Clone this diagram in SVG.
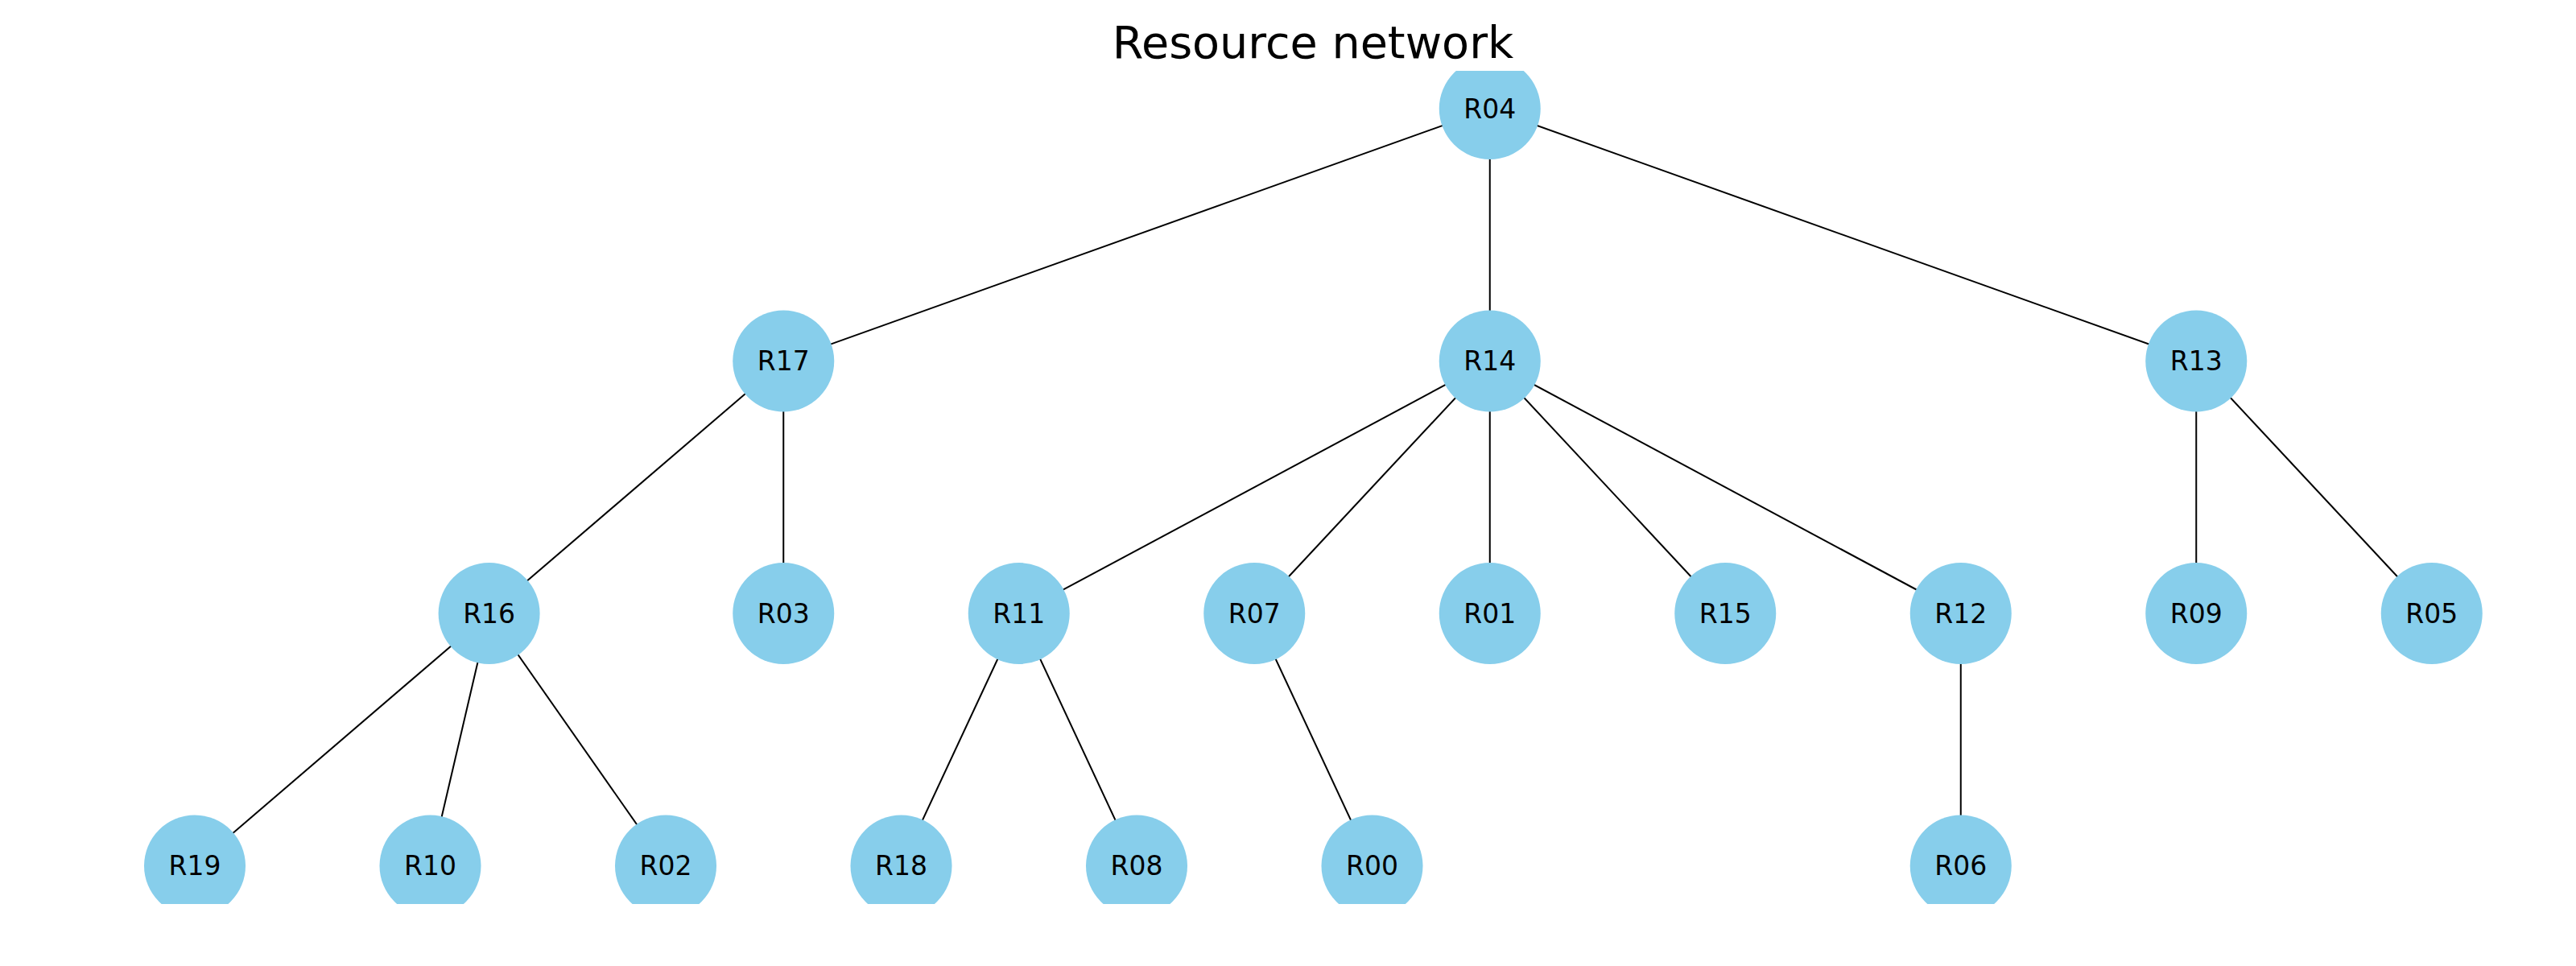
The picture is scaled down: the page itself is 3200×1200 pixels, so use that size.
<svg xmlns="http://www.w3.org/2000/svg" width="3200" height="1200" viewBox="0 0 3200 1200">
<style>
.edge{stroke:#000;stroke-width:2;fill:none}
.node circle{fill:#87CEEB}
.node text{font-family:"DejaVu Sans",sans-serif;font-size:33px;fill:#000;text-anchor:middle;dominant-baseline:central}
.title{font-family:"DejaVu Sans",sans-serif;font-size:55.6px;fill:#000;text-anchor:middle}
</style>
<defs><clipPath id="ax"><rect x="0" y="88" width="3200" height="1035"/></clipPath></defs>
<rect width="3200" height="1200" fill="#fff"/>
<text class="title" x="1631" y="72">Resource network</text>
<g clip-path="url(#ax)">
<g id="edges">
<line class="edge" x1="1850.75" y1="135" x2="973.25" y2="448.5"/>
<line class="edge" x1="1850.75" y1="135" x2="1850.75" y2="448.5"/>
<line class="edge" x1="1850.75" y1="135" x2="2728.25" y2="448.5"/>
<line class="edge" x1="973.25" y1="448.5" x2="607.6" y2="762"/>
<line class="edge" x1="973.25" y1="448.5" x2="973.25" y2="762"/>
<line class="edge" x1="1850.75" y1="448.5" x2="1265.75" y2="762"/>
<line class="edge" x1="1850.75" y1="448.5" x2="1558.25" y2="762"/>
<line class="edge" x1="1850.75" y1="448.5" x2="1850.75" y2="762"/>
<line class="edge" x1="1850.75" y1="448.5" x2="2143.25" y2="762"/>
<line class="edge" x1="1850.75" y1="448.5" x2="2435.75" y2="762"/>
<line class="edge" x1="2728.25" y1="448.5" x2="2728.25" y2="762"/>
<line class="edge" x1="2728.25" y1="448.5" x2="3020.75" y2="762"/>
<line class="edge" x1="607.6" y1="762" x2="242" y2="1075.5"/>
<line class="edge" x1="607.6" y1="762" x2="534.5" y2="1075.5"/>
<line class="edge" x1="607.6" y1="762" x2="827" y2="1075.5"/>
<line class="edge" x1="1265.75" y1="762" x2="1119.5" y2="1075.5"/>
<line class="edge" x1="1265.75" y1="762" x2="1412" y2="1075.5"/>
<line class="edge" x1="1558.25" y1="762" x2="1704.5" y2="1075.5"/>
<line class="edge" x1="2435.75" y1="762" x2="2435.75" y2="1075.5"/>
</g>
<g id="R04" class="node"><circle cx="1850.75" cy="135" r="63"/><text x="1850.75" y="135">R04</text></g>
<g id="R17" class="node"><circle cx="973.25" cy="448.5" r="63"/><text x="973.25" y="448.5">R17</text></g>
<g id="R14" class="node"><circle cx="1850.75" cy="448.5" r="63"/><text x="1850.75" y="448.5">R14</text></g>
<g id="R13" class="node"><circle cx="2728.25" cy="448.5" r="63"/><text x="2728.25" y="448.5">R13</text></g>
<g id="R16" class="node"><circle cx="607.6" cy="762" r="63"/><text x="607.6" y="762">R16</text></g>
<g id="R03" class="node"><circle cx="973.25" cy="762" r="63"/><text x="973.25" y="762">R03</text></g>
<g id="R11" class="node"><circle cx="1265.75" cy="762" r="63"/><text x="1265.75" y="762">R11</text></g>
<g id="R07" class="node"><circle cx="1558.25" cy="762" r="63"/><text x="1558.25" y="762">R07</text></g>
<g id="R01" class="node"><circle cx="1850.75" cy="762" r="63"/><text x="1850.75" y="762">R01</text></g>
<g id="R15" class="node"><circle cx="2143.25" cy="762" r="63"/><text x="2143.25" y="762">R15</text></g>
<g id="R12" class="node"><circle cx="2435.75" cy="762" r="63"/><text x="2435.75" y="762">R12</text></g>
<g id="R09" class="node"><circle cx="2728.25" cy="762" r="63"/><text x="2728.25" y="762">R09</text></g>
<g id="R05" class="node"><circle cx="3020.75" cy="762" r="63"/><text x="3020.75" y="762">R05</text></g>
<g id="R19" class="node"><circle cx="242" cy="1075.5" r="63"/><text x="242" y="1075.5">R19</text></g>
<g id="R10" class="node"><circle cx="534.5" cy="1075.5" r="63"/><text x="534.5" y="1075.5">R10</text></g>
<g id="R02" class="node"><circle cx="827" cy="1075.5" r="63"/><text x="827" y="1075.5">R02</text></g>
<g id="R18" class="node"><circle cx="1119.5" cy="1075.5" r="63"/><text x="1119.5" y="1075.5">R18</text></g>
<g id="R08" class="node"><circle cx="1412" cy="1075.5" r="63"/><text x="1412" y="1075.5">R08</text></g>
<g id="R00" class="node"><circle cx="1704.5" cy="1075.5" r="63"/><text x="1704.5" y="1075.5">R00</text></g>
<g id="R06" class="node"><circle cx="2435.75" cy="1075.5" r="63"/><text x="2435.75" y="1075.5">R06</text></g>
</g>
</svg>
